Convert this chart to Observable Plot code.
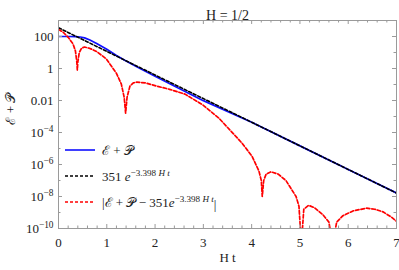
<!DOCTYPE html>
<html><head><meta charset="utf-8">
<script src="https://cdn.jsdelivr.net/npm/d3@7"></script>
<script src="https://cdn.jsdelivr.net/npm/@observablehq/plot@0.6"></script>
<style>body{margin:0;background:#fff}svg{display:block}</style>
</head><body><div id="chart"></div>
<script>
// ---- data ----
const blueT = [0, 0.2, 0.35, 0.45, 0.54, 0.65, 0.79, 1.0, 1.2, 1.39, 1.62, 2.0, 2.5, 3.0, 4.0, 5.0, 6.0, 7.0];
const blueV = [100, 100, 98, 93, 82, 60, 37, 16, 6.5, 3.1, 1.3, 0.33, 0.057, 0.0098, 4.36e-4, 1.46e-5, 4.88e-7, 1.64e-8];

const blackT = [0, 7];
const blackV = [351, 1.64e-8];

const redT = [0, 0.1, 0.2, 0.3, 0.35, 0.38, 0.39, 0.40, 0.43, 0.48, 0.54, 0.65, 0.79, 0.99, 1.2, 1.3, 1.36, 1.39, 1.42, 1.48, 1.55, 1.62, 1.8, 2.03, 2.3, 2.62, 3.0, 3.32, 3.66, 3.81, 4.01, 4.15, 4.20, 4.22, 4.25, 4.3, 4.40, 4.55, 4.71, 4.92, 4.98, 5.03, 5.08, 5.18, 5.3, 5.48, 5.6, 5.68, 5.76, 5.89, 6.1, 6.38, 6.55, 6.72, 6.9, 7.0];
const redV = [280, 180, 89, 35, 12.6, 2.5, 0.8, 2.5, 10, 19, 22, 18, 11.5, 4, 0.5, 0.11, 0.016, 1.6e-3, 0.016, 0.08, 0.125, 0.14, 0.125, 0.08, 0.05, 0.025, 5e-3, 8e-4, 6.3e-5, 2e-5, 3.2e-6, 4e-7, 1e-7, 1e-8, 1e-7, 2.5e-7, 3.5e-7, 2.5e-7, 1e-7, 1e-8, 2.5e-9, 1e-11, 1.6e-9, 2.8e-9, 2e-9, 7e-10, 2.5e-10, 1e-11, 2.5e-10, 6.3e-10, 1.26e-9, 1.86e-9, 1.6e-9, 1.1e-9, 5e-10, 2.8e-10];

const xMajor = [0, 1, 2, 3, 4, 5, 6, 7];
const xMinor = [0.2,0.4,0.6,0.8,1.2,1.4,1.6,1.8,2.2,2.4,2.6,2.8,3.2,3.4,3.6,3.8,4.2,4.4,4.6,4.8,5.2,5.4,5.6,5.8,6.2,6.4,6.6,6.8];
const yLabelTicks = [1e-10, 1e-8, 1e-6, 1e-4, 0.01, 1, 100];
const yLabelText = ["10^−10", "10^−8", "10^−6", "10^−4", "0.01", "1", "100"];
const yMinor = [1e-9, 1e-7, 1e-5, 1e-3, 0.1, 10, 1000];

const legendColors = ["#1010ff", "#000000", "#ff0000"];

const blue = blueT.map((t, i) => ({t, v: blueV[i]}));
const black = blackT.map((t, i) => ({t, v: blackV[i]}));
const red = redT.map((t, i) => ({t, v: redV[i]}));

const W = 399, H = 270, mL = 58, mR = 3, mT = 20, mB = 42;
const ph = H - mT - mB, pw = W - mL - mR;
const frameCol = "#9a9a9a";
const FONT = "Liberation Serif, Times New Roman, serif";

const chart = Plot.plot({
  width: W, height: H, marginLeft: mL, marginRight: mR, marginTop: mT, marginBottom: mB,
  style: {fontFamily: FONT, fontSize: "13px", background: "#fff", color: "#222"},
  x: {domain: [0, 7]},
  y: {type: "log", domain: [1e-10, 1e3]},
  marks: [
    Plot.line(blue, {x: "t", y: "v", stroke: legendColors[0], strokeWidth: 1.7, clip: true}),
    Plot.line(black, {x: "t", y: "v", stroke: legendColors[1], strokeWidth: 1.6, strokeDasharray: "3,2", clip: true}),
    Plot.line(red, {x: "t", y: "v", stroke: legendColors[2], strokeWidth: 1.7, strokeDasharray: "3.5,2", clip: true}),
    Plot.frame({stroke: frameCol}),
    Plot.tickX(xMajor, {x: d => d, stroke: frameCol, insetTop: ph - 4}),
    Plot.tickX(xMajor, {x: d => d, stroke: frameCol, insetBottom: ph - 4}),
    Plot.tickX(xMinor, {x: d => d, stroke: frameCol, insetTop: ph - 2.5}),
    Plot.tickX(xMinor, {x: d => d, stroke: frameCol, insetBottom: ph - 2.5}),
    Plot.tickY(yLabelTicks, {y: d => d, stroke: frameCol, insetRight: pw - 4}),
    Plot.tickY(yLabelTicks, {y: d => d, stroke: frameCol, insetLeft: pw - 4}),
    Plot.tickY(yMinor, {y: d => d, stroke: frameCol, insetRight: pw - 2.5}),
    Plot.tickY(yMinor, {y: d => d, stroke: frameCol, insetLeft: pw - 2.5}),
    Plot.axisX({ticks: xMajor, tickSize: 0, tickPadding: 9, label: null, tickFormat: d => String(d), fontSize: 13}),
    Plot.axisY({ticks: yLabelTicks, tickSize: 0, tickPadding: 5, label: null, tickFormat: d => yLabelText[yLabelTicks.indexOf(d)], fontSize: 13}),
    Plot.text(["H t"], {frameAnchor: "bottom", dy: 33, text: d => d, fontSize: 13}),
    Plot.text(["H = 1/2"], {frameAnchor: "top", dy: -10, text: d => d, fontSize: 14}),
    Plot.text(["ℰ + 𝒫"], {frameAnchor: "left", dx: -48, rotate: -90, text: d => d, fontSize: 13})
  ]
});
document.getElementById("chart").appendChild(chart);

const svg = d3.select(chart);
svg.selectAll("text").each(function() {
  const el = d3.select(this);
  const tx = el.text();
  if (tx.includes("^") && el.selectAll("tspan").empty()) {
    const [base, exp] = tx.split("^");
    el.text(null);
    el.append("tspan").text(base);
    el.append("tspan").attr("dy", "-0.45em").attr("font-size", "0.72em").text(exp);
  }
});

// legend
const lg = svg.append("g").attr("font-family", FONT).attr("font-size", 13).attr("fill", "#222").attr("text-anchor", "start");
const rows = [150, 176, 202];
const dashes = [null, "3,2", "3,2"];
rows.forEach((y, i) => {
  lg.append("line").attr("x1", 65).attr("x2", 95).attr("y1", y).attr("y2", y)
    .attr("stroke", legendColors[i]).attr("stroke-width", 1.6)
    .attr("stroke-dasharray", dashes[i]);
});
const t0 = lg.append("text").attr("x", 102).attr("y", rows[0]).attr("dy", "0.35em");
t0.text("ℰ + 𝒫");
const t1 = lg.append("text").attr("x", 102).attr("y", rows[1]).attr("dy", "0.35em");
t1.append("tspan").text("351 ");
t1.append("tspan").attr("font-style", "italic").text("e");
t1.append("tspan").attr("dy", "-0.5em").attr("font-size", "0.7em").html("−3.398 <tspan font-style='italic'>H t</tspan>");
const t2 = lg.append("text").attr("x", 102).attr("y", rows[2]).attr("dy", "0.35em");
t2.append("tspan").text("|ℰ + 𝒫 − 351");
t2.append("tspan").attr("font-style", "italic").text("e");
t2.append("tspan").attr("dy", "-0.5em").attr("font-size", "0.7em").html("−3.398 <tspan font-style='italic'>H t</tspan>");
t2.append("tspan").attr("dy", "0.5em").text("|");
</script>
</body></html>
